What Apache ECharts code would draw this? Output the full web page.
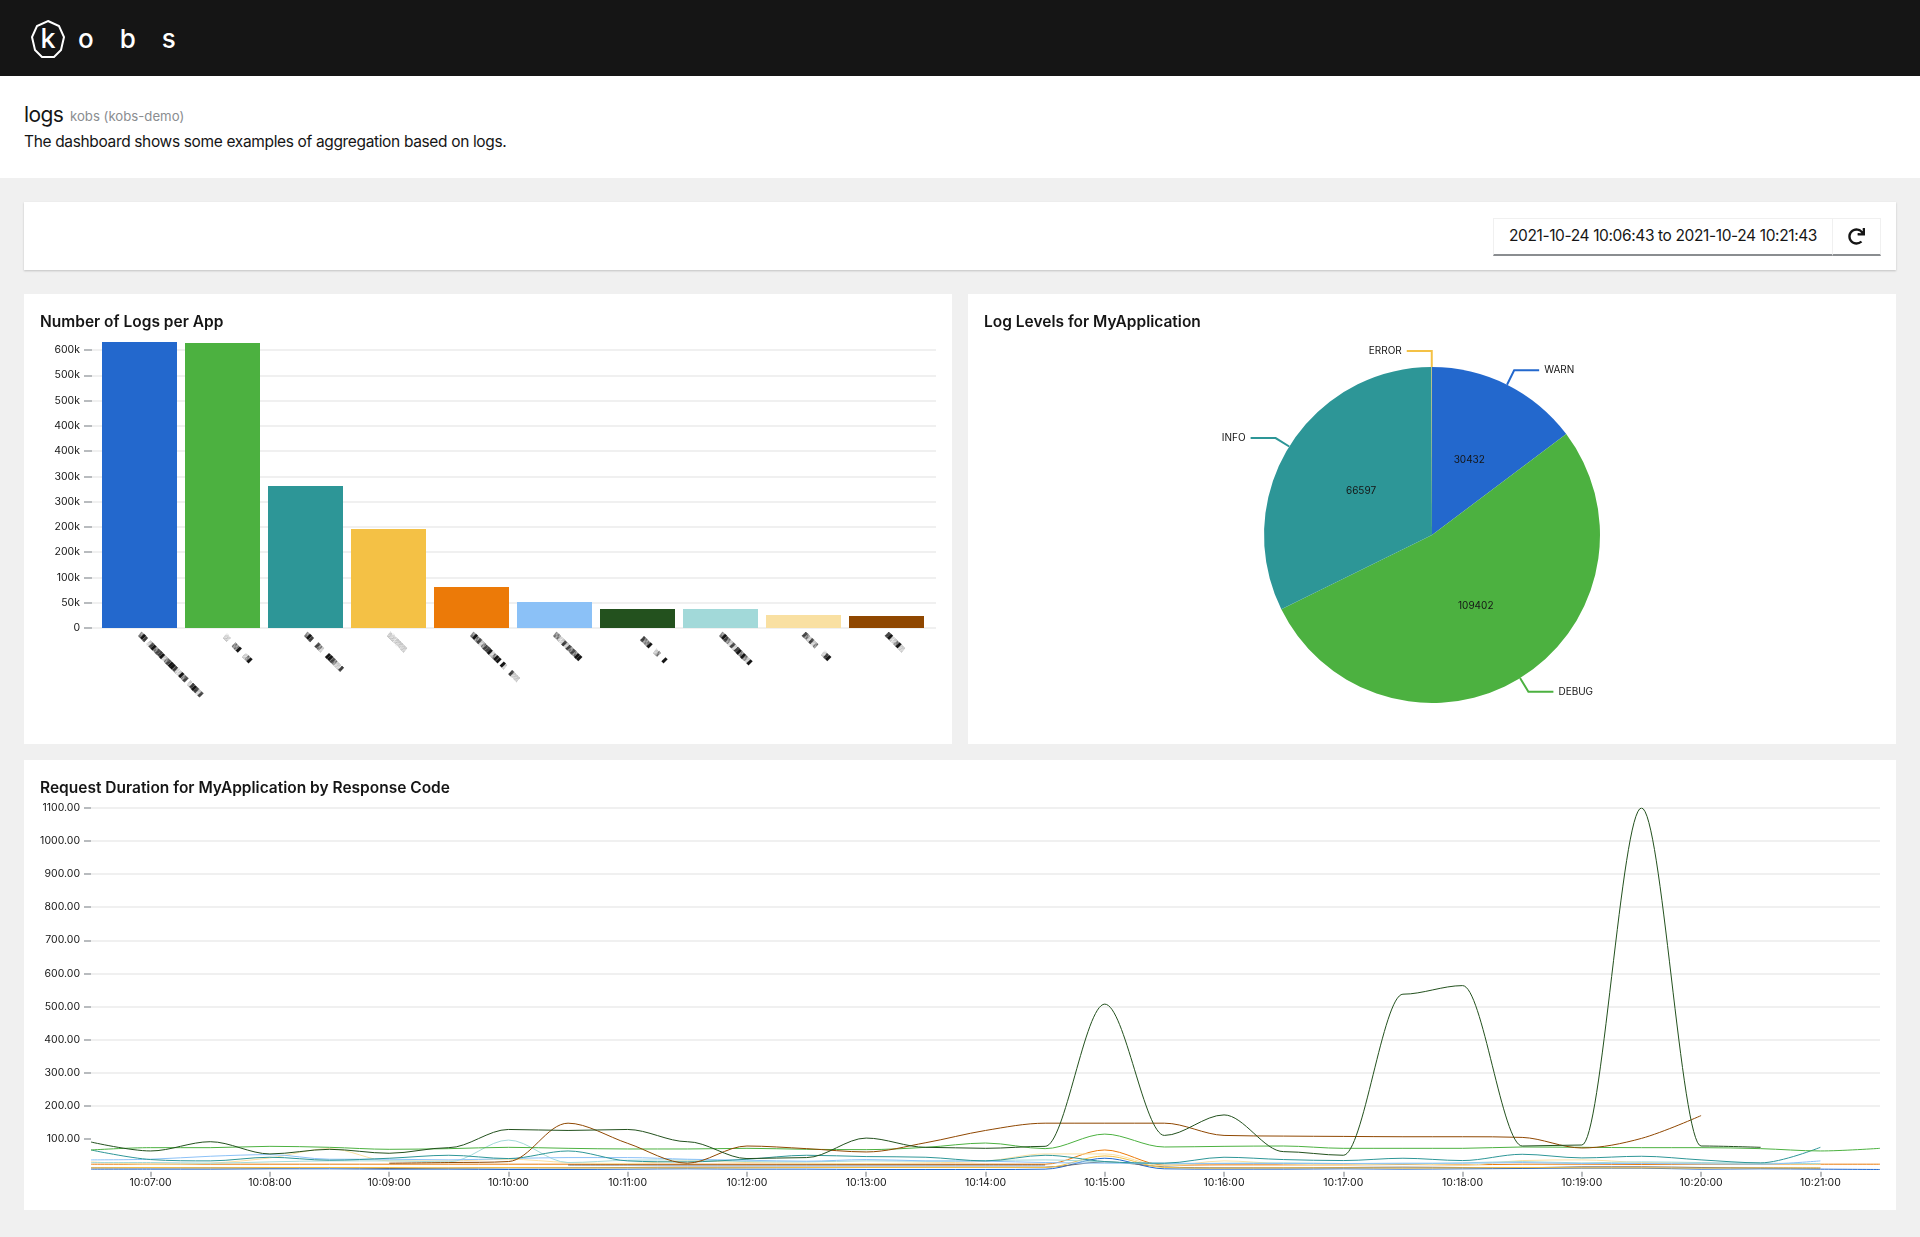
<!DOCTYPE html>
<html>
<head>
<meta charset="utf-8">
<title>kobs</title>
<script src="https://cdn.jsdelivr.net/npm/echarts@6/dist/echarts.min.js"></script>
<style>
  html, body { margin: 0; padding: 0; background: #f0f0f0; font-family: Inter, sans-serif; color: #151515; }
  #page { position: relative; width: 1920px; height: 1237px; overflow: hidden; }
  #page > div { position: absolute; }
  .header { left: 0; top: 0; width: 1920px; height: 76px; background: #151515; }
  .brand { position: absolute; left: 78px; top: 23px; color: #fff; font-size: 26px; font-weight: 500; letter-spacing: 26px; line-height: 32px; }
  .logo { position: absolute; left: 29px; top: 19px; }
  .intro { left: 0; top: 76px; width: 1920px; height: 102px; background: #fff; }
  .intro .name { position: absolute; left: 24px; top: 26px; font-size: 21px; line-height: 26px; letter-spacing: -0.6px; }
  .intro .ns { position: absolute; left: 70px; top: 31px; font-size: 13.2px; line-height: 18px; color: #8a8d90; }
  .intro .desc { position: absolute; left: 24px; top: 55px; font-size: 15.5px; line-height: 22px; letter-spacing: -0.35px; }
  .toolbar { left: 24px; top: 202px; width: 1872px; height: 68px; background: #fff; box-shadow: 0 1px 2px rgba(3,3,3,.2); }
  .range { position: absolute; left: 1469px; top: 16px; width: 338px; height: 35px; line-height: 34px; text-align: center; font-size: 15.5px; letter-spacing: -0.38px; border: 1px solid #f0f0f0; border-bottom: 2px solid #8a8d90; box-sizing: content-box; }
  .refresh { position: absolute; left: 1808px; top: 16px; width: 47px; height: 35px; border: 1px solid #f0f0f0; border-bottom: 2px solid #8a8d90; }
  .refresh svg { position: absolute; left: 15px; top: 9px; }
  .card { background: #fff; }
  .card .title { position: absolute; left: 16px; top: 17px; font-size: 15.5px; font-weight: 600; line-height: 22px; z-index: 2; }
  .card .chart { position: absolute; left: 0; top: 0; width: 100%; height: 100%; }
</style>
</head>
<body>
<div id="page">
  <div class="header">
    <svg class="logo" width="38" height="40" viewBox="0 0 38 40">
      <polygon points="19,2 30,7 35,18 32,31 25,38 13,38 6,31 3,18 8,7" fill="none" stroke="#fff" stroke-width="2"/>
      <text x="19" y="29" text-anchor="middle" fill="#fff" font-family="Inter" font-size="27" font-weight="500">k</text>
    </svg>
    <div class="brand">obs</div>
  </div>
  <div class="intro">
    <div class="name">logs</div>
    <div class="ns">kobs (kobs-demo)</div>
    <div class="desc">The dashboard shows some examples of aggregation based on logs.</div>
  </div>
  <div class="toolbar">
    <div class="range">2021-10-24 10:06:43 to 2021-10-24 10:21:43</div>
    <div class="refresh">
      <svg width="17" height="17" viewBox="0 0 512 512"><path fill="#151515" d="M500.33 0h-47.41a12 12 0 0 0-12 12.57l4 82.76A247.42 247.42 0 0 0 256 8C119.34 8 8.05 119.53 8 256.19 7.95 393.07 119.06 504 256 504a247.1 247.1 0 0 0 166.18-63.91 12 12 0 0 0 .48-17.43l-34-34a12 12 0 0 0-16.38-.55A176 176 0 1 1 402.1 157.8l-101.53-4.87a12 12 0 0 0-12.57 12v47.41a12 12 0 0 0 12 12h200.33a12 12 0 0 0 12-12V12a12 12 0 0 0-12-12z"/></svg>
    </div>
  </div>
  <div class="card" style="left:24px;top:294px;width:928px;height:450px">
    <div class="title">Number of Logs per App</div>
    <div class="chart" id="barChart"></div>
  </div>
  <div class="card" style="left:968px;top:294px;width:928px;height:450px">
    <div class="title">Log Levels for MyApplication</div>
    <div class="chart" id="pieChart"></div>
  </div>
  <div class="card" style="left:24px;top:760px;width:1872px;height:450px">
    <div class="title">Request Duration for MyApplication by Response Code</div>
    <div class="chart" id="lineChart"></div>
  </div>
</div>
<script>
// colours
const blue = '#2368cd', green = '#4cb140', teal = '#2d9697', gold = '#f4c145', orange = '#ec7a08';
const lightBlue = '#8bc1f7', darkGreen = '#23511e', lightTeal = '#a2d9d9', lightYellow = '#f9e0a2', brown = '#8f4700';
const fontName = 'Inter, sans-serif';

// logs per app - the app names are unreadable blocks in the picture
const appNames = [
  '▒█▓ ░▓█▒▓▓█░▒▓██▓░░█▒▓ ░▓█▓░▓',
  ' ░░  ▒▒█  ░▒█',
  '▒█▓  ▓▒░  ██▓▒░░▓',
  '░░░░░░░░ ',
  '▒█▒▓░▒▓▓█░▒██ █░  ▓░░░',
  '▒▒░░▓░▓▒▓▒██',
  '  ▓▒▒█  ░▒  █',
  '▒█▓▒░▓░▓█▒█▒░█',
  '▓▒░▓░▒   ░▓█',
  '▓█░░▒█░░',
];
const logCounts = [565800, 563800, 280900, 195800, 81000, 51400, 37600, 37400, 25700, 23700];
const barColors = [blue, green, teal, gold, orange, lightBlue, darkGreen, lightTeal, lightYellow, brown];
const barTickLabels = ['0', '50k', '100k', '200k', '200k', '300k', '300k', '400k', '400k', '500k', '500k', '600k'];

// log levels
const levelNames = ['WARN', 'DEBUG', 'INFO', 'ERROR'];
const levelCounts = [30432, 109402, 66597, 90];
const levelColors = [blue, green, teal, gold];

// request duration
const times = ['10:06:30', '10:07:00', '10:07:30', '10:08:00', '10:08:30', '10:09:00', '10:09:30', '10:10:00',
  '10:10:30', '10:11:00', '10:11:30', '10:12:00', '10:12:30', '10:13:00', '10:13:30', '10:14:00', '10:14:30',
  '10:15:00', '10:15:30', '10:16:00', '10:16:30', '10:17:00', '10:17:30', '10:18:00', '10:18:30', '10:19:00',
  '10:19:30', '10:20:00', '10:20:30', '10:21:00', '10:21:30'];
const durationBlue = [8, 8, 8, 9, 9, 8, 8, 7, 7, 8, 9, 8, 8, 7, 7, 7, 8, 41, 9, 8, 8, 9, 8, 9, 10, 11, 11, 8, 9, 8, 7];
const durationGray = [12, 12, 12, 12, 13, 10, 11, 12, 12, 13, 14, 14, 14, 14, 14, 14, 14, 30, 15, 12, 12, 13, 14, 13, 12, 15, 15, 13, 12, 11, null];
const durationGold = [12, 13, 12, 13, 13, 13, 12, 13, 12, 12, 12, 12, 13, 13, 13, 13, 13, 48, 13, 11, 12, 12, 11, 12, 13, 12, 12, 11, 12, 12, null];
const durationNavy = [null, null, null, null, null, null, null, null, 21, 21, 21, 21, 21, 21, 21, 21, 21, null, null, null, null, null, null, null, null, null, null, null, null, null, null];
const durationOrange = [23, 23, 23, 23, 23, 23, 23, 23, 23, 23, 23, 23, 23, 23, 23, 23, 23, 66, 20, 21, 21, 21, 22, 21, 23, 23, 22, 23, 23, 23, 23];
const durationYellow = [30, 23, 26, 42, 70, 33, 33, 38, 28, 25, 33, 28, 26, 25, 27, 32, 54, 54, 18, 33, 24, 21, 24, 20, 34, 36, 28, 26, 24, 23, null];
const durationLightTeal = [28, 28, 26, 30, 33, 33, 30, 96, 28, 35, 36, 31, 30, 33, 32, 34, 36, 30, 24, 26, 27, 25, 24, 27, 31, 27, 30, 28, 26, 25, null];
const durationLightBlue = [36, 38, 47, 52, 38, 38, 36, 40, 43, 43, 38, 35, 32, 37, 33, 32, 28, 26, 26, 25, 25, 25, 26, 26, 28, 25, 25, 24, 23, 33, null];
const durationTeal = [66, 37, 33, 44, 35, 41, 50, 40, 63, 33, 30, 38, 50, 46, 44, 33, 50, 31, 26, 44, 37, 34, 41, 34, 53, 42, 47, 36, 27, 74, null];
const durationGreen = [66, 73, 73, 77, 74, 68, 70, 74, 71, 69, 69, 71, 68, 67, 74, 87, 70, 114, 75, 77, 78, 71, 71, 71, 75, 74, 73, 73, 70, 63, 71];
const durationBrown = [null, null, null, null, null, 26, 28, 31, 147, 86, 26, 78, 70, 60, 88, 125, 147, 147, 147, 110, 108, 107, 106, 106, 104, 72, 101, 170, null, null, null];
const durationDarkGreen = [90, 63, 91, 54, 68, 56, 73, 128, 125, 128, 91, 40, 43, 102, 74, 71, 77, 507, 110, 172, 61, 50, 537, 563, 78, 81, 1100, 78, 74, null, null];

const axisGray = '#b8bbbe';
const gridGray = '#f0f0f0';

// bar chart: one grid carries the gridlines, the other one the narrower band of bars
const barChart = echarts.init(document.getElementById('barChart'));
barChart.setOption({
  animation: false,
  grid: [
    { left: 68, right: 16, top: 56, bottom: 116 },
    { left: 74, width: 830, top: 56, bottom: 116 }
  ],
  xAxis: [
    { gridIndex: 0, type: 'value', show: false },
    {
      gridIndex: 1,
      type: 'category',
      data: appNames,
      axisLine: { show: false },
      axisTick: { alignWithLabel: true, length: 6, lineStyle: { color: axisGray, width: 2 } },
      axisLabel: { interval: 0, rotate: -45, margin: 6, fontSize: 5, fontFamily: '"DejaVu Sans Mono"', color: '#151515' }
    }
  ],
  yAxis: [
    {
      gridIndex: 0,
      type: 'value',
      min: 0,
      max: 550000,
      interval: 50000,
      axisLine: { show: false },
      axisTick: { show: true, length: 8, lineStyle: { color: axisGray, width: 2 } },
      axisLabel: {
        margin: 12,
        fontSize: 10.5,
        fontFamily: fontName,
        color: '#151515',
        formatter: (value) => barTickLabels[Math.round(value / 50000)]
      },
      splitLine: { lineStyle: { color: gridGray, width: 2 } }
    },
    { gridIndex: 1, type: 'value', min: 0, max: 550000, show: false }
  ],
  series: [{
    type: 'bar',
    xAxisIndex: 1,
    yAxisIndex: 1,
    clip: false,
    barWidth: 75,
    data: logCounts,
    itemStyle: { color: (p) => barColors[p.dataIndex] }
  }]
});

// pie chart: outer names and inner counts need two series on top of each other
const levelData = levelNames.map((name, i) => ({ name: name, value: levelCounts[i] }));
const pieChart = echarts.init(document.getElementById('pieChart'));
const pieBase = {
  type: 'pie',
  center: [464, 241],
  startAngle: 90,
  avoidLabelOverlap: false,
  silent: true
};
pieChart.setOption({
  animation: false,
  color: levelColors,
  series: [
    Object.assign({}, pieBase, {
      radius: [0, 168],
      data: levelData,
      label: { show: true, position: 'outside', formatter: '{b}', fontSize: 10, fontFamily: fontName, color: '#151515', distanceToLabelLine: 5 },
      labelLine: { show: true, length: 16, length2: 25, smooth: false, minTurnAngle: 0, lineStyle: { width: 2 } }
    }),
    Object.assign({}, pieBase, {
      radius: [0, 161],
      data: levelData.map((d) => ({
        name: d.name,
        value: d.value,
        label: { show: d.value > 1000 },
        itemStyle: { color: 'transparent' }
      })),
      label: { position: 'inside', formatter: '{c}', fontSize: 10, fontFamily: fontName, color: '#151515' },
      labelLine: { show: false }
    })
  ]
});

// request duration
const lines = [
  [durationBlue, blue], [durationGray, '#6a6e73'], [durationGold, gold], [durationNavy, '#16294a'], [durationOrange, orange],
  [durationYellow, lightYellow], [durationLightTeal, lightTeal], [durationLightBlue, lightBlue], [durationTeal, teal],
  [durationGreen, green], [durationBrown, brown], [durationDarkGreen, darkGreen]
];
const lineChart = echarts.init(document.getElementById('lineChart'));
lineChart.setOption({
  animation: false,
  grid: { left: 67, right: 16, top: 48, bottom: 38.2 },
  xAxis: {
    type: 'category',
    data: times,
    boundaryGap: false,
    axisLine: { show: false },
    axisTick: { length: 5, interval: (i) => i % 2 === 1, lineStyle: { color: axisGray, width: 2 } },
    axisLabel: { interval: (i) => i % 2 === 1, margin: 6, fontSize: 10.5, fontFamily: fontName, color: '#151515' }
  },
  yAxis: {
    type: 'value',
    min: 0,
    max: 1100,
    interval: 100,
    axisLine: { show: false },
    axisTick: { show: true, length: 7, customValues: [100, 200, 300, 400, 500, 600, 700, 800, 900, 1000, 1100], lineStyle: { color: axisGray, width: 2 } },
    axisLabel: {
      margin: 11,
      fontSize: 10.5,
      fontFamily: fontName,
      color: '#151515',
      showMinLabel: false,
      formatter: (value) => value.toFixed(2)
    },
    splitLine: { showMinLine: false, lineStyle: { color: gridGray, width: 2 } }
  },
  series: lines.map((l) => ({
    type: 'line',
    data: l[0],
    smooth: 0.33,
    // the spikes stay flat at their feet, everything else follows its slope
    smoothMonotone: l[0] === durationDarkGreen ? 'x' : undefined,
    showSymbol: false,
    lineStyle: { color: l[1], width: 1 }
  }))
});
</script>
</body>
</html>
